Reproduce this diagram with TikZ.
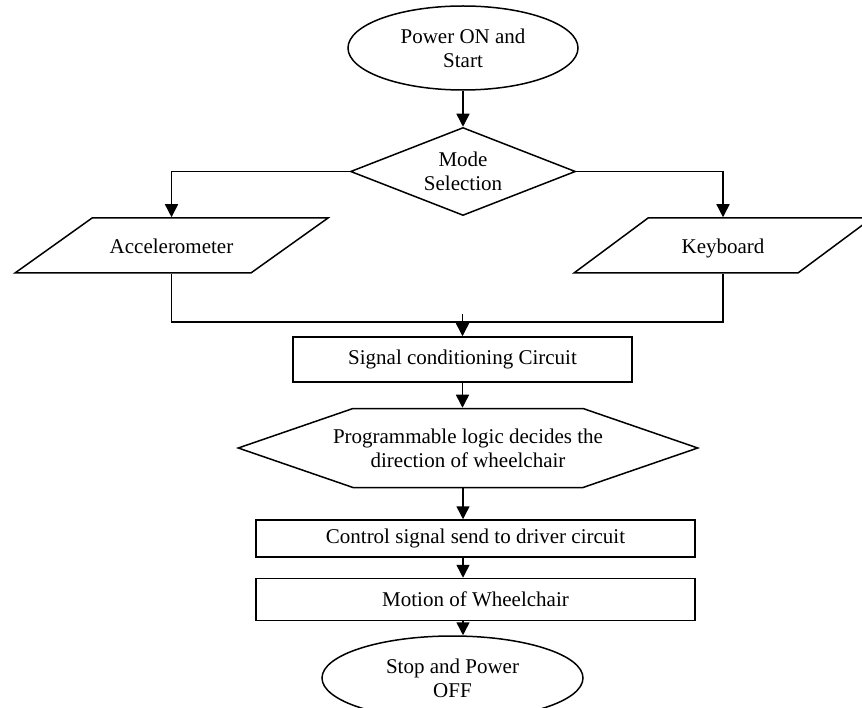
\documentclass[tikz,border=0pt]{standalone}
\usepackage{fontspec}
\setmainfont{Liberation Serif}
\usetikzlibrary{shapes.geometric, shapes.symbols, positioning, arrows.meta}

\begin{document}
\begin{tikzpicture}[
    x = 1pt, y = -1pt, align = center,
    font = \fontsize{21}{24}\selectfont,
    every node/.style = {line width = 1.5pt},
    terminal/.style = {
      ellipse, draw, inner sep = 0pt
    },
    decision/.style = {
      diamond, draw, inner sep = 0pt, aspect = 2.56,
      minimum width = 225pt, minimum height = 88pt
    },
    io/.style = {
      trapezium, draw, trapezium stretches body,
      inner xsep = 0pt, inner ysep = 17.5pt, text height = 18.5pt, text depth = 1.5pt
    },
    process/.style = {
      rectangle, draw, inner sep = 0pt
    },
    logic/.style = {
      signal, signal to = west and east, signal pointer angle = 38,
      draw, inner sep = 0pt, minimum height = 79pt
    },
    path/.style = {
      arrows = ->, line width = 1.5pt, > = {Triangle[length = 13pt, width = 13pt]}
    },
    line/.style = {
      line width = 1.5pt
    },
    ]

    \useasboundingbox  (0,0)  rectangle  (862,708);

    % draw flow
    \node  [terminal, minimum width = 230pt, minimum height = 84pt]  (start)  at  (463,48)  {Power ON and\\Start};
    \node  [decision]  (mode)  [below = 36pt of start]  {Mode\\Selection};
    \node  [io, trapezium left angle = 35.5, trapezium right angle = 144.5,
      minimum width = 313pt]  (acc)  at  (171.5,245.5)  {Accelerometer};
    \node  [io, trapezium left angle = 36.6, trapezium right angle = 143.4,
      minimum width = 298pt]  (key)  at  (723,245.5)  {Keyboard};
    \coordinate  (join)  at  (462.5,314);
    \node  [process, minimum width = 339pt, minimum height = 45pt]  (cond)  at  (462.5,359.5)  {Signal conditioning Circuit};
    \node  [logic]  (prog)  [below = 25pt of cond, xshift = 5.5pt]
      {\makebox[230pt]{Programmable logic decides the}\\\makebox[230pt]{direction of wheelchair}};
    \node  [process, minimum width = 439pt, minimum height = 37pt]  (ctrl)  [below = 31pt of prog, xshift = 7.5pt]  {Control signal send to driver circuit};
    \node  [process, minimum width = 439pt, minimum height = 42pt]  (motion)  [below = 20pt of ctrl]  {Motion of Wheelchair};
    \node  [terminal, minimum width = 261pt, minimum height = 84pt]  (stop)  [below = 14pt of motion, xshift = -23pt]  {Stop and Power\\OFF};

    % draw paths
    \draw  [path]  (start)  to  (mode);
    \draw  [path]  (mode.west)  -|  (acc.north);
    \draw  [path]  (mode.east)  -|  (key.north);
    \draw  [line]  (acc.south)  --  (acc.south |- 0,322)  --  (key.south |- 0,322)  --  (key.south);
    \draw  [path]  (join)  to  (cond);
    \draw  [path]  (cond.south)  to  (cond.south |- prog.north);

    \foreach \from/\to in {prog/ctrl, ctrl/motion, motion/stop}
    \draw  [path]  (\from.south -| start.south)  to  (\to.north -| start.south);
\end{tikzpicture}
\end{document}
